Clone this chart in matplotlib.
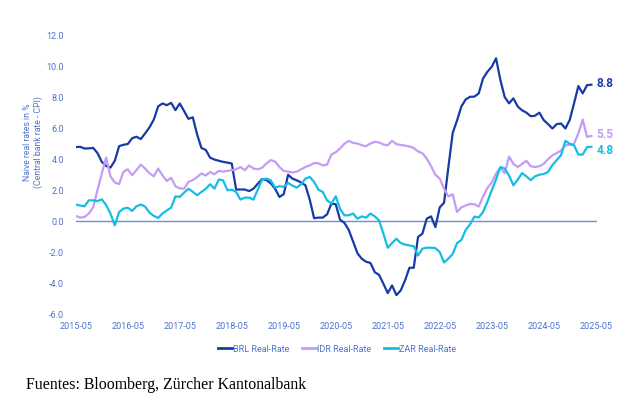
import matplotlib
matplotlib.use("Agg")
import matplotlib.pyplot as plt
import numpy as np
import pandas as pd

plt.rcParams['font.family'] = ['Roboto', 'DejaVu Sans']

months = pd.date_range("2015-05-01", periods=120, freq="MS")

brl = [4.78, 4.80, 4.69, 4.70, 4.73, 4.4, 3.83, 3.57, 3.46, 3.9,
       4.84, 4.93, 4.98, 5.35, 5.45, 5.3, 5.66, 6.05, 6.55, 7.4,
       7.59, 7.48, 7.63, 7.16, 7.59, 7.1, 6.6, 6.7, 5.6, 4.72,
       4.6, 4.1, 3.98, 3.9, 3.83, 3.78, 3.72, 2.05, 2.05, 2.05,
       1.95, 2.1, 2.42, 2.72, 2.66, 2.45, 2.1, 1.57, 1.75, 3.0,
       2.75, 2.64, 2.5, 2.32, 1.4, 0.2, 0.24, 0.24, 0.45, 1.14,
       1.1, 0.1, -0.1, -0.55, -1.3, -2.05, -2.41, -2.6, -2.68, -3.27,
       -3.45, -4.02, -4.62, -4.13, -4.75, -4.45, -3.8, -2.99, -2.99, -1.0,
       -0.8, 0.17, 0.32, -0.37, 0.9, 1.2, 3.5, 5.7, 6.5, 7.4,
       7.85, 8.02, 8.03, 8.24, 9.2, 9.63, 9.95, 10.5, 9.1, 8.0,
       7.6, 7.92, 7.4, 7.15, 7.0, 6.77, 6.8, 7.0, 6.52, 6.26,
       5.98, 6.26, 6.3, 5.98, 6.52, 7.6, 8.71, 8.24, 8.77, 8.8]

idr = [0.35, 0.24, 0.28, 0.5, 0.9, 2.0, 3.08, 4.11, 2.9, 2.5,
       2.4, 3.2, 3.35, 2.97, 3.3, 3.65, 3.4, 3.1, 2.9, 3.4,
       2.97, 2.6, 2.8, 2.26, 2.12, 2.1, 2.54, 2.65, 2.85, 3.08,
       2.95, 3.18, 3.03, 3.25, 3.2, 3.25, 3.29, 3.35, 3.5, 3.29,
       3.6, 3.4, 3.35, 3.45, 3.72, 3.94, 3.85, 3.5, 3.25, 3.2,
       3.15, 3.2, 3.35, 3.5, 3.6, 3.75, 3.74, 3.6, 3.65, 4.3,
       4.45, 4.69, 5.0, 5.18, 5.05, 5.01, 4.9, 4.84, 5.01, 5.12,
       5.08, 4.95, 4.9, 5.18, 4.97, 4.92, 4.88, 4.82, 4.72, 4.5,
       4.38, 4.05, 3.55, 3.0, 2.75, 2.1, 1.6, 1.74, 0.6, 0.9,
       1.02, 1.12, 1.1, 0.95, 1.6, 2.15, 2.5, 3.08, 3.45, 3.1,
       4.17, 3.7, 3.5, 3.7, 3.9, 3.55, 3.5, 3.55, 3.7, 4.0,
       4.25, 4.4, 4.55, 4.9, 4.93, 5.0, 5.66, 6.56, 5.44, 5.5]

zar = [1.08, 1.02, 0.97, 1.35, 1.35, 1.3, 1.42, 1.05, 0.5, -0.26,
       0.6, 0.82, 0.88, 0.67, 0.97, 1.08, 0.95, 0.56, 0.35, 0.22,
       0.5, 0.7, 0.88, 1.61, 1.57, 1.85, 2.1, 1.9, 1.68, 1.89,
       2.1, 2.39, 2.1, 2.69, 2.64, 2.0, 2.04, 1.89, 1.4, 1.53,
       1.53, 1.4, 2.04, 2.69, 2.75, 2.64, 2.17, 2.26, 2.22, 2.47,
       2.3, 2.17, 2.39, 2.75, 2.86, 2.54, 2.04, 1.89, 1.35, 1.14,
       1.61, 0.8, 0.39, 0.39, 0.5, 0.17, 0.32, 0.24, 0.5, 0.32,
       0.06, -0.8, -1.7, -1.4, -1.12, -1.4, -1.5, -1.55, -1.6, -2.2,
       -1.76, -1.7, -1.7, -1.72, -1.98, -2.65, -2.4, -2.1, -1.4, -1.2,
       -0.55, -0.2, 0.3, 0.25, 0.6, 1.25, 2.0, 2.7, 3.5, 3.4,
       2.95, 2.32, 2.68, 3.1, 2.9, 2.65, 2.9, 3.0, 3.05, 3.18,
       3.62, 3.94, 4.26, 5.18, 5.0, 4.9, 4.3, 4.3, 4.78, 4.8]

series_names = ["BRL Real-Rate", "IDR Real-Rate", "ZAR Real-Rate"]
end_labels = ["8.8", "5.5", "4.8"]
tick_labels = [f"{y}-05" for y in range(2015, 2026)]
y_ticks = [-6, -4, -2, 0, 2, 4, 6, 8, 10, 12]

colors = ["#173ba6", "#c59cf4", "#14bde6"]
label_dy = [1.0, 1.0, -2.5]
tick_color = "#4f72c9"

W, H = 644, 405
fig = plt.figure(figsize=(W / 100, H / 100), dpi=100)
ax = fig.add_axes([75.8 / W, 1 - 314.5 / H, (597 - 75.8) / W, (314.5 - 35) / H])

x = np.arange(len(months))
for vals, c, name, lab, dy in zip([brl, idr, zar], colors, series_names, end_labels, label_dy):
    ax.plot(x, vals, color=c, lw=1.6, label=name, solid_joinstyle="round")
    ax.annotate(lab, xy=(x[-1], vals[-1]), xytext=(3.5, dy), textcoords="offset points",
                color=c, fontsize=8.5, fontweight="bold", va="center", ha="left")

ax.axhline(0, color="#6f8bd4", lw=1.0, zorder=0)

ax.set_xlim(0, 120.3)
ax.set_ylim(-6, 12)
ax.set_xticks(np.arange(0, 121, 12))
ax.set_xticklabels(tick_labels)
ax.set_yticks(y_ticks)
ax.set_yticklabels([f"{v:.1f}" for v in y_ticks])
ax.tick_params(axis="both", length=0, labelsize=6.5, colors=tick_color)
ax.tick_params(axis="y", pad=8.5)
ax.tick_params(axis="x", pad=5.5)
for s in ax.spines.values():
    s.set_visible(False)

fig.text(33 / W, 1 - 142 / H, "Naive real rates in %\n(Central bank rate - CPI)",
         rotation=90, ha="center", va="center", fontsize=6.2, color=tick_color,
         linespacing=1.2, multialignment="center")

leg = fig.legend(loc="center", bbox_to_anchor=(337 / W, 1 - 349 / H), ncol=3,
                 frameon=False, fontsize=6.5, handlelength=1.6, handletextpad=0.1,
                 columnspacing=1.4)
for t in leg.get_texts():
    t.set_color(tick_color)
for h in leg.legend_handles:
    h.set_linewidth(2.0)

fig.text(26 / W, 1 - 385 / H, "Fuentes: Bloomberg, Zürcher Kantonalbank",
         family="Liberation Serif", fontsize=11.4, color="black", ha="left", va="center")

fig.savefig("out.png", dpi=100)
